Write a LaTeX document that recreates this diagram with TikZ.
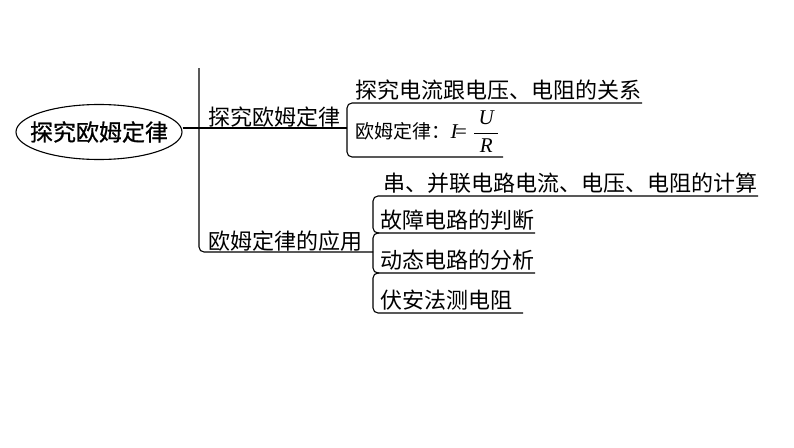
\documentclass[tikz,border=0pt]{standalone}
\usepackage{amsmath}
\usepackage{fontspec}
\usepackage{tikz}
\usetikzlibrary{shapes.geometric}
\newfontfamily\cjk{Noto Sans CJK SC}
\newfontfamily\cjkroot[FakeBold=0.8]{Noto Sans CJK SC}
\newfontfamily\tms{Liberation Serif}
\newcommand{\qty}[1]{\text{\tms\itshape #1}}

\begin{document}
\begin{tikzpicture}[x=1pt, y=-1pt, line width=1.1pt,
    every node/.append style={font=\cjk\fontsize{22}{22}\selectfont, inner sep=0pt},
    branch/.style={anchor=south west, text depth=2pt},
    leaf/.style={anchor=south west, text depth=4pt}]
        \useasboundingbox (0,0) rectangle (794,447);

        \node[draw, ellipse, inner xsep=-20pt, minimum width=166, minimum height=55,
              font=\cjkroot\fontsize{23}{23}\selectfont] (root) at (99,132) {探究欧姆定律};

        \node[branch] (lawA) at (208,128) {探究欧姆定律};
        \node[branch] (lawB) at (208,252) {欧姆定律的应用};

        \node[leaf] (a1) at (355,103) {探究电流跟电压、电阻的关系};
        \node[leaf, text depth=18pt, font=\cjk\fontsize{19}{19}\selectfont] (a2) at (355,157)
            {欧姆定律：{\fontsize{21}{21}\selectfont$\qty{I}\mkern-2mu\text{\tms=}\mkern5mu\dfrac{\mkern4mu\qty{U}\mkern4mu}{\qty{R}}$}};

        \node[leaf] (b1) at (383,196) {串、并联电路电流、电压、电阻的计算};
        \node[leaf] (b2) at (380,233) {故障电路的判断};
        \node[leaf] (b3) at (380,273) {动态电路的分析};
        \node[leaf] (b4) at (380,313) {伏安法测电阻};

        \coordinate (spine) at (199,68);
        \coordinate (brkA) at (347,0);
        \coordinate (brkB) at (373,0);
        \coordinate (jb2) at (b2.south -| brkB);
        \coordinate (jb3) at (b3.south -| brkB);

        \draw (root.east |- lawA.south) -- (lawA.south -| brkA);
        \draw[rounded corners=5pt] (spine) -- (spine |- lawB.south) -- (lawB.south -| brkB);

        \draw[rounded corners=5pt] (a1.south east) -- (a1.south -| brkA) -- (a2.south -| brkA) -- ([xshift=3pt]a2.south east);

        \draw[rounded corners=5pt] (b1.south east) -- (b1.south -| brkB) -- (jb2) -- (b2.south east);
        \draw[rounded corners=5pt] ([xshift=6pt]jb2) -- (jb2) -- (jb3) -- (b3.south east);
        \draw[rounded corners=5pt] ([xshift=6pt]jb3) -- (jb3) -- (b4.south -| brkB) -- ([xshift=10pt]b4.south east);
    \end{tikzpicture}
\end{document}
